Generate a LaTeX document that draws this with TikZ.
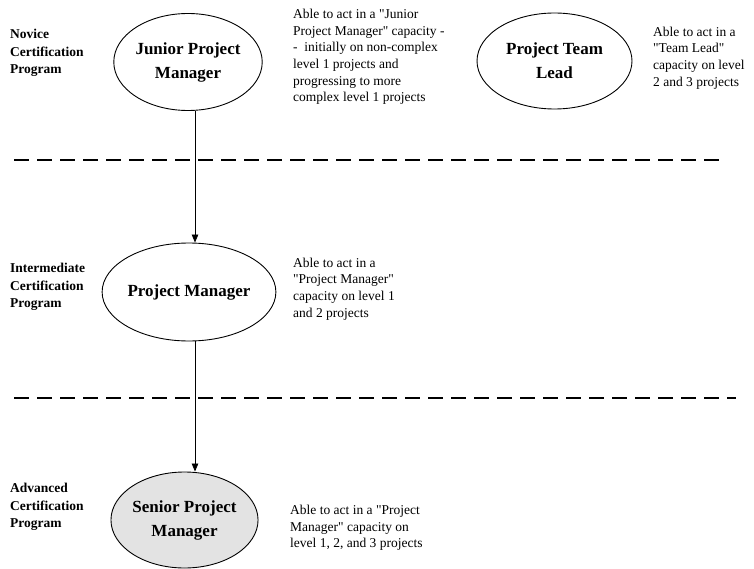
\documentclass[tikz,border=0pt]{standalone}
\usepackage{fontspec}
\setmainfont{Liberation Serif}[Ligatures=TeXOff]
\usetikzlibrary{shapes.geometric,arrows.meta}
\begin{document}
\begin{tikzpicture}[x=1pt,y=-1pt,
  role/.style={draw=black,line width=0.9pt,ellipse,inner sep=0pt,align=center,
    font=\bfseries\fontsize{17}{24}\selectfont},
  level/.style={anchor=west,align=left,inner sep=0pt,font=\bfseries\fontsize{13.5}{17.5}\selectfont},
  desc/.style={anchor=west,align=left,inner sep=0pt,font=\fontsize{13.5}{16.6}\selectfont},
  divider/.style={line width=1.8pt,dash pattern=on 15pt off 8pt},
  arr/.style={line width=0.8pt,-{Triangle[length=8pt,width=6.5pt]}}]
\useasboundingbox (0,0) rectangle (754,569);
% roles
\node[role,minimum width=141pt,minimum height=97pt] (jpm) at (188,62) {Junior Project\\Manager};
\node[role,minimum width=155pt,minimum height=96pt] (ptl) at (554.5,61) {Project Team\\Lead};
\node[role,minimum width=142pt,minimum height=98pt] (pm) at (189,292) {Project Manager};
\node[role,fill=gray!22,minimum width=141pt,minimum height=96pt] (spm) at (184.5,520) {Senior Project\\Manager};
% levels
\node[level] (nov) at (10,53) {Novice\\Certification\\Program};
\node[level] (int) at (10,287) {Intermediate\\Certification\\Program};
\node[level] (adv) at (10,507) {Advanced\\Certification\\Program};
% descriptions
\node[desc] (d1) at (293,57) {Able to act in a "Junior\\Project Manager" capacity -\\-\ \ initially on non-complex\\level 1 projects and\\progressing to more\\complex level 1 projects};
\node[desc] (d2) at (653,58) {Able to act in a\\"Team Lead"\\capacity on level\\2 and 3 projects};
\node[desc] (d3) at (293,289) {Able to act in a\\"Project Manager"\\capacity on level 1\\and 2 projects};
\node[desc] (d4) at (290,528) {Able to act in a "Project\\Manager" capacity on\\level 1, 2, and 3 projects};
% dividers
\coordinate (l1a) at (14,160); \coordinate (l1b) at (720,160);
\coordinate (l2a) at (14,398); \coordinate (l2b) at (736,398);
\draw[divider] (l1a) -- (l1b);
\draw[divider] (l2a) -- (l2b);
% arrows
\coordinate (ax) at (195,0);
\draw[arr] (jpm.south -| ax) -- (pm.north -| ax);
\draw[arr] (pm.south -| ax) -- (spm.north -| ax);
\end{tikzpicture}
\end{document}
